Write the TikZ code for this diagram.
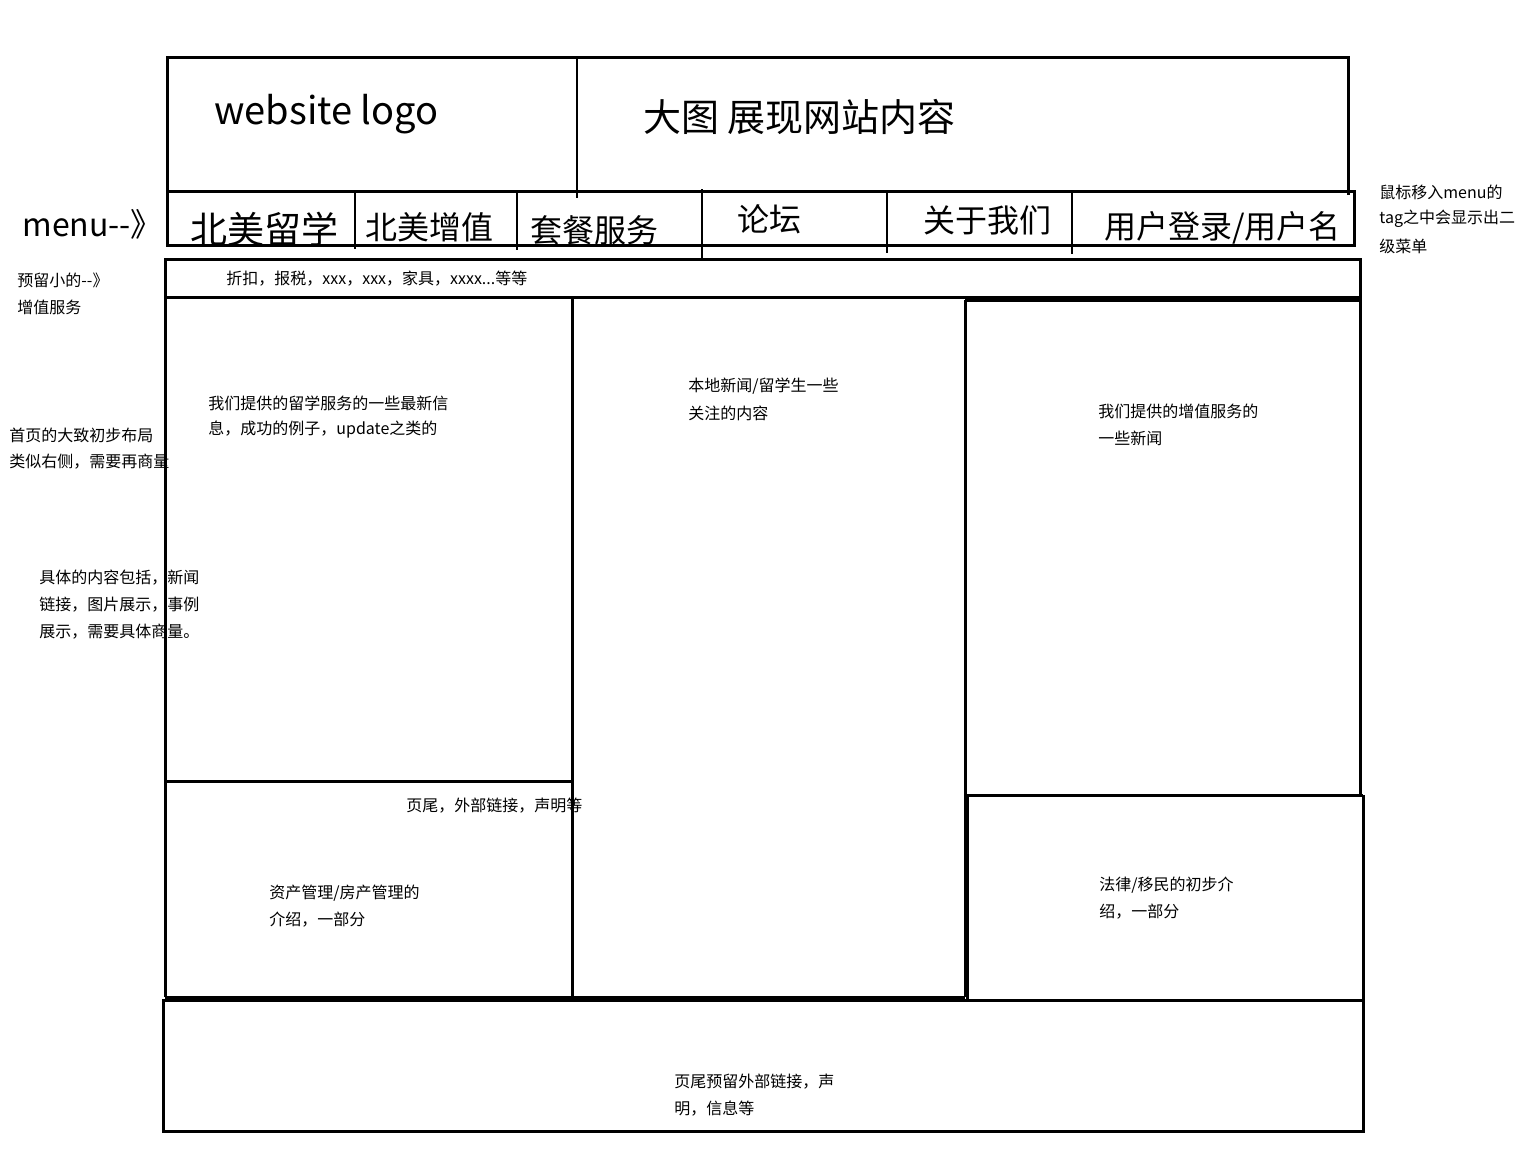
\documentclass[tikz,border=0pt]{standalone}
\usepackage{fontspec}
\setmainfont{Noto Sans CJK SC}
\begin{document}
\begin{tikzpicture}[x=0.5pt,y=-0.5pt,
  wire/.style={line width=1.5pt},
  thinwire/.style={line width=1.1pt},
  note/.style={anchor=west,inner sep=0pt,font=\fontsize{8}{10}\selectfont},
  menutext/.style={anchor=west,inner sep=0pt,font=\fontsize{16}{19}\selectfont},
  headtext/.style={anchor=west,inner sep=0pt,font=\fontsize{19}{22}\selectfont}]
\useasboundingbox (0,0) rectangle (1530,1157);
\fill[white] (0,0) rectangle (1530,1157);

% header: logo and banner
\draw[wire] (167,191) -- (167,57) -- (1348,57) -- (1348,195);
\draw[thinwire] (577,57) -- (577,198);
\node[headtext] (logo) at (214,114) {website logo};
\node[headtext] (banner) at (643,117) {大图 展现网站内容};

% menu bar
\draw[wire] (167,191) rectangle (1354,245);
\draw[thinwire] (355,191) -- (355,249);
\draw[thinwire] (517,191) -- (517,250);
\draw[thinwire] (702,189) -- (702,258);
\draw[thinwire] (887,193) -- (887,253);
\draw[thinwire] (1072,193) -- (1072,254);
\node[menutext,font=\fontsize{18.5}{22}\selectfont] (m1) at (190,229) {北美留学};
\node[menutext] (m2) at (365,227) {北美增值};
\node[menutext] (m3) at (530,230) {套餐服务};
\node[menutext] (m4) at (737,219) {论坛};
\node[menutext] (m5) at (923,220) {关于我们};
\node[menutext] (m6) at (1104,228) {用户登录/用户名};
\node[menutext] (menulabel) at (22,224) {menu-{}-》};

% reserved bar
\draw[wire] (165,259) rectangle (1360,297);
\node[note] (bar) at (226,279) {折扣，报税，xxx，xxx，家具，xxxx...等等};

% content columns
\draw[wire] (165,297) -- (165,997);
\draw[wire] (572,297) -- (572,997);
\draw[wire] (965,300) -- (1360,300);
\draw[wire] (965,300) -- (965,997);
\draw[wire] (1360,297) -- (1360,795);
\draw[wire] (165,781) -- (572,781);
\draw[wire] (965,795.5) -- (1363,795.5);
\draw[wire] (967,795) -- (967,1000);
\draw[wire] (1363,795) -- (1363,1000);
\draw[wire] (165,997) -- (965,997);

% footer
\draw[wire] (163,1000) rectangle (1363,1131);

% side notes
\node[note] (n1a) at (17,280) {预留小的-{}-》};
\node[note] (n1b) at (17,307) {增值服务};
\node[note] (n2a) at (1379,192) {鼠标移入menu的};
\node[note] (n2b) at (1379,219) {tag之中会显示出二};
\node[note] (n2c) at (1379,246) {级菜单};
\node[note] (n3a) at (9,435) {首页的大致初步布局};
\node[note] (n3b) at (9,462) {类似右侧，需要再商量};
\node[note] (n4a) at (39,578) {具体的内容包括，新闻};
\node[note] (n4b) at (39,605) {链接，图片展示，事例};
\node[note] (n4c) at (39,632) {展示，需要具体商量。};

% block captions
\node[note] (c1a) at (208,403) {我们提供的留学服务的一些最新信};
\node[note] (c1b) at (208,430) {息，成功的例子，update之类的};
\node[note] (c2a) at (688,386) {本地新闻/留学生一些};
\node[note] (c2b) at (688,413) {关注的内容};
\node[note] (c3a) at (1098,411) {我们提供的增值服务的};
\node[note] (c3b) at (1098,438) {一些新闻};
\node[note] (c4) at (406,806) {页尾，外部链接，声明等};
\node[note] (c5a) at (269,893) {资产管理/房产管理的};
\node[note] (c5b) at (269,920) {介绍，一部分};
\node[note] (c6a) at (1099,885) {法律/移民的初步介};
\node[note] (c6b) at (1099,912) {绍，一部分};
\node[note] (c7a) at (674,1082) {页尾预留外部链接，声};
\node[note] (c7b) at (674,1109) {明，信息等};
\end{tikzpicture}
\end{document}
